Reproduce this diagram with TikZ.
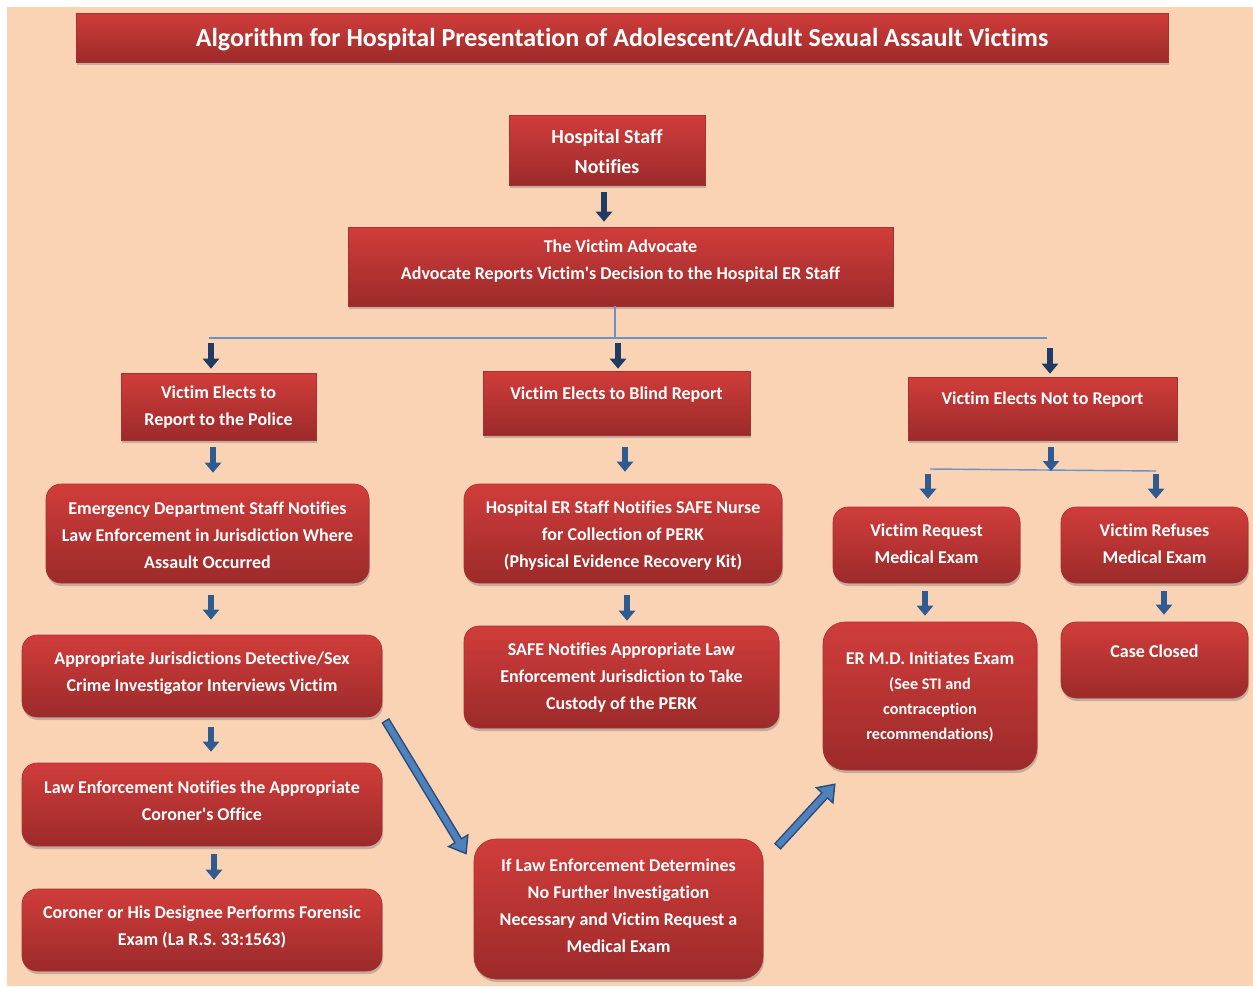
\documentclass[tikz,border=0pt]{standalone}
\usepackage{fontspec}
\setmainfont{Carlito}[Ligatures={TeXOff,CommonOff}]
\usetikzlibrary{arrows.meta,shadows,calc}
\definecolor{peach}{HTML}{FAD3B4}
\definecolor{rtop}{HTML}{D03D3B}
\definecolor{rbot}{HTML}{9C2A2A}
\definecolor{rline}{HTML}{A83030}
\definecolor{navy}{HTML}{1F3B63}
\definecolor{midblue}{HTML}{2E5B90}
\definecolor{lineblue}{HTML}{6A93C8}
\definecolor{arrfill}{HTML}{4F81BD}
\definecolor{arrline}{HTML}{2B4C78}
\newcommand{\smallf}{\fontsize{16.2}{25}\selectfont}
\begin{document}
\begin{tikzpicture}[x=1pt,y=-1pt,
  redbox/.style={draw=rline, line width=0.6pt, top color=rtop, bottom color=rbot,
    drop shadow={shadow xshift=1pt,shadow yshift=-3pt,fill=black!50,opacity=0.45}, inner sep=0pt},
  redsq/.style={redbox},
  redrd/.style={redbox, rounded corners=15pt},
  redrdl/.style={redbox, rounded corners=22pt},
  boxtxt/.style={text=white, font=\bfseries\fontsize{18}{27}\selectfont, align=center, inner sep=0pt},
  darkarr/.style={draw=navy, line width=6pt, -{Triangle[length=10pt,width=16pt]}},
  bluearr/.style={draw=midblue, line width=6pt, -{Triangle[length=10pt,width=16pt]}},
  thinl/.style={draw=lineblue, line width=1.4pt},
  diagout/.style={draw=arrline, line width=9pt, -{Triangle[length=17pt,width=24pt]}},
  diagin/.style={draw=arrfill, line width=6pt, -{Triangle[length=12.9pt,width=18.2pt]}, shorten >=2.6pt, shorten <=1.5pt}
]
\useasboundingbox (0,0) rectangle (1253,986);
\fill[white] (0,0) rectangle (1253,986);
\fill[peach] (7,7) rectangle (1253,986);

% ---------- boxes ----------
\node[redsq, minimum width=1092pt, minimum height=49pt] (title) at (622,37.5) {};
\node[boxtxt, font=\bfseries\fontsize{26}{30}\selectfont] (titlet) at (622,40) {Algorithm for Hospital Presentation of Adolescent/Adult Sexual Assault Victims};

\node[redsq, minimum width=196pt, minimum height=70pt] (hs) at (607,150) {};
\node[boxtxt, font=\bfseries\fontsize{19.9}{30}\selectfont] (hst) at (607,151.5) {Hospital Staff\\Notifies};

\node[redsq, minimum width=545pt, minimum height=79pt] (adv) at (620.5,266.5) {};
\node[boxtxt] (advt) at (620.5,261.5) {The Victim Advocate\\Advocate Reports Victim's Decision to the Hospital ER Staff};

\node[redsq, minimum width=195pt, minimum height=67pt] (pol) at (218.5,406.5) {};
\node[boxtxt] (polt) at (218.5,407.5) {Victim Elects to\\Report to the Police};

\node[redsq, minimum width=267pt, minimum height=64pt] (blind) at (616.5,403) {};
\node[boxtxt] (blindt) at (616.5,394.5) {Victim Elects to Blind Report};

\node[redsq, minimum width=269pt, minimum height=63pt] (not) at (1042.5,408.5) {};
\node[boxtxt] (nott) at (1042.5,399.5) {Victim Elects Not to Report};

\node[redrd, minimum width=323pt, minimum height=99pt] (emer) at (207.5,533.5) {};
\node[boxtxt] (emert) at (207.5,535) {Emergency Department Staff Notifies\\Law Enforcement in Jurisdiction Where\\Assault Occurred};

\node[redrd, minimum width=318pt, minimum height=99pt] (her) at (623,533.5) {};
\node[boxtxt] (hert) at (623,535.5) {Hospital ER Staff Notifies SAFE Nurse\\for Collection of PERK\\(Physical Evidence Recovery Kit)};

\node[redrd, minimum width=187pt, minimum height=76pt] (vrq) at (926.5,545) {};
\node[boxtxt] (vrqt) at (926.5,543.5) {Victim Request\\Medical Exam};

\node[redrd, minimum width=187pt, minimum height=76pt] (vrf) at (1154.5,545) {};
\node[boxtxt] (vrft) at (1154.5,543.5) {Victim Refuses\\Medical Exam};

\node[redrd, minimum width=360pt, minimum height=82pt] (aj) at (202,676) {};
\node[boxtxt] (ajt) at (202,673) {Appropriate Jurisdictions Detective/Sex\\Crime Investigator Interviews Victim};

\node[redrd, minimum width=315pt, minimum height=102pt] (safe) at (621.5,677) {};
\node[boxtxt] (safet) at (621.5,678) {SAFE Notifies Appropriate Law\\Enforcement Jurisdiction to Take\\Custody of the PERK};

\node[redrdl, minimum width=214pt, minimum height=148pt] (ermd) at (930,696) {};
\node[boxtxt, font=\bfseries\fontsize{18}{25}\selectfont] (ermdt) at (930,697) {ER M.D. Initiates Exam\\\smallf (See STI and\\\smallf contraception\\\smallf recommendations)};

\node[redrd, minimum width=187pt, minimum height=76pt] (cc) at (1154.5,660) {};
\node[boxtxt] (cct) at (1154.5,651) {Case Closed};

\node[redrd, minimum width=360pt, minimum height=83pt] (le) at (202,804.5) {};
\node[boxtxt] (let) at (202,801) {Law Enforcement Notifies the Appropriate\\Coroner's Office};

\node[redrd, minimum width=360pt, minimum height=82pt] (cor) at (202,930) {};
\node[boxtxt] (cort) at (202,927) {Coroner or His Designee Performs Forensic\\Exam (La R.S. 33:1563)};

\node[redrdl, minimum width=289pt, minimum height=140pt] (ifle) at (618.5,909) {};
\node[boxtxt] (iflet) at (618.5,906) {If Law Enforcement Determines\\No Further Investigation\\Necessary and Victim Request a\\Medical Exam};

% ---------- branch lines ----------
\coordinate (bx) at (615,338);
\coordinate (bl) at (209,338);
\coordinate (br) at (1047,338);
\draw[thinl] (adv.south -| bx) -- (bx);
\draw[thinl] (bl) -- (br);

\coordinate (b2l) at (930,469);
\coordinate (b2r) at (1156,471);
\draw[thinl] (b2l) -- (b2r);

% ---------- vertical arrows ----------
\coordinate (a1) at ($(hs.south)+(-3,7)$);
\draw[darkarr, shorten >=5pt] (a1) -- (a1 |- adv.north);

\coordinate (a2) at ($(bl)+(2,5)$);
\draw[darkarr, shorten >=4pt] (a2) -- (a2 |- pol.north);
\coordinate (a3) at ($(bx)+(3,5)$);
\draw[darkarr, shorten >=2pt] (a3) -- (a3 |- blind.north);
\coordinate (a4) at ($(br)+(3,10)$);
\draw[darkarr, shorten >=3pt] (a4) -- (a4 |- not.north);

\coordinate (a5) at ($(pol.south)+(-5.5,7)$);
\draw[bluearr, shorten >=11pt] (a5) -- (a5 |- emer.north);
\coordinate (a6) at ($(blind.south)+(8.5,12)$);
\draw[bluearr, shorten >=12pt] (a6) -- (a6 |- her.north);
\coordinate (a7) at ($(not.south)+(8.5,7)$);
\draw[bluearr] (a7) -- (a7 |- b2r);

\coordinate (a8) at ($(b2l)+(-2,5)$);
\draw[bluearr, shorten >=8pt] (a8) -- (a8 |- vrq.north);
\coordinate (a9) at ($(b2r)+(0,3)$);
\draw[bluearr, shorten >=8pt] (a9) -- (a9 |- vrf.north);

\coordinate (a10) at ($(emer.south)+(3.5,12)$);
\draw[bluearr, shorten >=15pt] (a10) -- (a10 |- aj.north);
\coordinate (a11) at ($(her.south)+(4,12)$);
\draw[bluearr, shorten >=5pt] (a11) -- (a11 |- safe.north);
\coordinate (a12) at ($(vrq.south)+(-1.5,8)$);
\draw[bluearr, shorten >=6pt] (a12) -- (a12 |- ermd.north);
\coordinate (a13) at ($(vrf.south)+(9.5,8)$);
\draw[bluearr, shorten >=7pt] (a13) -- (a13 |- cc.north);

\coordinate (a14) at ($(aj.south)+(9,10)$);
\draw[bluearr, shorten >=11pt] (a14) -- (a14 |- le.north);
\coordinate (a15) at ($(le.south)+(12,8)$);
\draw[bluearr, shorten >=9pt] (a15) -- (a15 |- cor.north);

% ---------- diagonal arrows ----------
\coordinate (d1s) at ($(aj.south east)+(3,3)$);
\coordinate (d1e) at ($(ifle.north west)+(-7,16)$);
\draw[diagout] (d1s) -- (d1e);
\draw[diagin] (d1s) -- (d1e);

\coordinate (d2s) at ($(ifle.north east)+(14,8)$);
\coordinate (d2e) at ($(ermd.south west)+(13,13)$);
\draw[diagout] (d2s) -- (d2e);
\draw[diagin] (d2s) -- (d2e);
\end{tikzpicture}
\end{document}
